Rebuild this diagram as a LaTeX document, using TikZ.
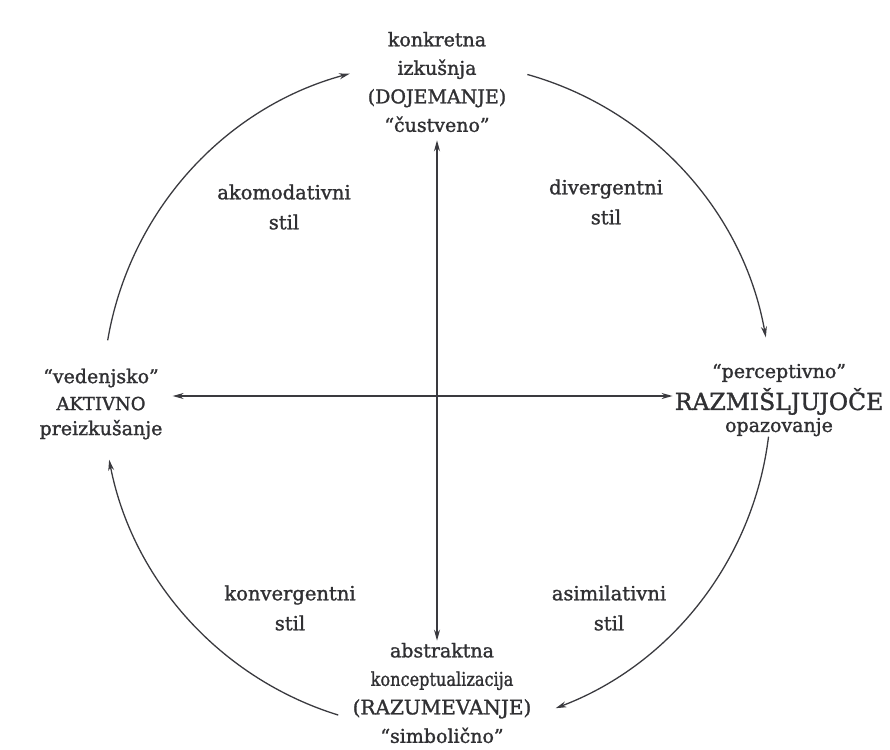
\documentclass[tikz,border=0pt]{standalone}
\usepackage{graphicx}
\usepackage{fontspec}
\setmainfont{DejaVu Serif}[FakeBold=1.4]
\usetikzlibrary{arrows.meta,calc}
\definecolor{ink}{HTML}{303033}
\definecolor{lineink}{HTML}{3A3A3F}
\begin{document}
\begin{tikzpicture}[x=1pt,y=-1pt,
  lbl/.style={text=ink,align=center,inner sep=2pt,font=\fontsize{19}{28.5}\selectfont},
  stl/.style={text=ink,align=center,inner sep=0pt,font=\fontsize{19.5}{30}\selectfont},
  axis/.style={draw=lineink,line width=1.4pt,{Stealth[length=11pt,width=6pt]}-{Stealth[length=11pt,width=6pt]}},
  cyc/.style={draw=lineink,line width=1.3pt,-{Stealth[length=11pt,width=6pt]}}
]
\useasboundingbox (0,0) rectangle (890,749);
\coordinate (C) at (437,396);
% text blocks
\node[lbl] (top) at (437,82) {konkretna\\izkušnja\\(DOJEMANJE)\\``čustveno''};
\node[lbl] (bot) at (442,693) {abstraktna\\\scalebox{0.85}[1]{konceptualizacija}\\{\fontsize{20}{20}\selectfont (RAZUMEVANJE)}\\``simbolično''};
\node[lbl,font=\fontsize{19}{27}\selectfont] (left) at (101,404) {``vedenjsko''\\{\fontsize{18}{18}\selectfont AKTIVNO}\\[-2pt]preizkušanje};
\node[lbl,font=\fontsize{19}{30}\selectfont] (right) at (779,400) {``perceptivno''\\[2pt]{\fontsize{23.5}{23.5}\selectfont RAZMIŠLJUJOČE}\\[-8pt]opazovanje};
% style labels
\node[stl] (akom) at (284,207) {akomodativni\\stil};
\node[stl] (div) at (606,202) {divergentni\\stil};
\node[stl] (konv) at (290,608) {konvergentni\\stil};
\node[stl] (asim) at (609,608) {asimilativni\\stil};
% axes
\draw[axis,shorten >=6pt] (bot.north -| C) -- (top.south -| C);
\draw[axis,shorten <=8pt] (left.east |- C) -- (right.west |- C);
% cycle arcs
\draw[cyc] ($(C)+(170.4:334pt)$) arc[start angle=170.4,end angle=105.1,radius=334pt];
\draw[cyc] ($(C)+(74.3:334pt)$) arc[start angle=74.3,end angle=10.1,radius=334pt];
\draw[cyc] ($(C)+(-7:334pt)$) arc[start angle=-7,end angle=-69.2,radius=334pt];
\draw[cyc] ($(C)+(-107.2:334pt)$) arc[start angle=-107.2,end angle=-169,radius=334pt];
\end{tikzpicture}
\end{document}
